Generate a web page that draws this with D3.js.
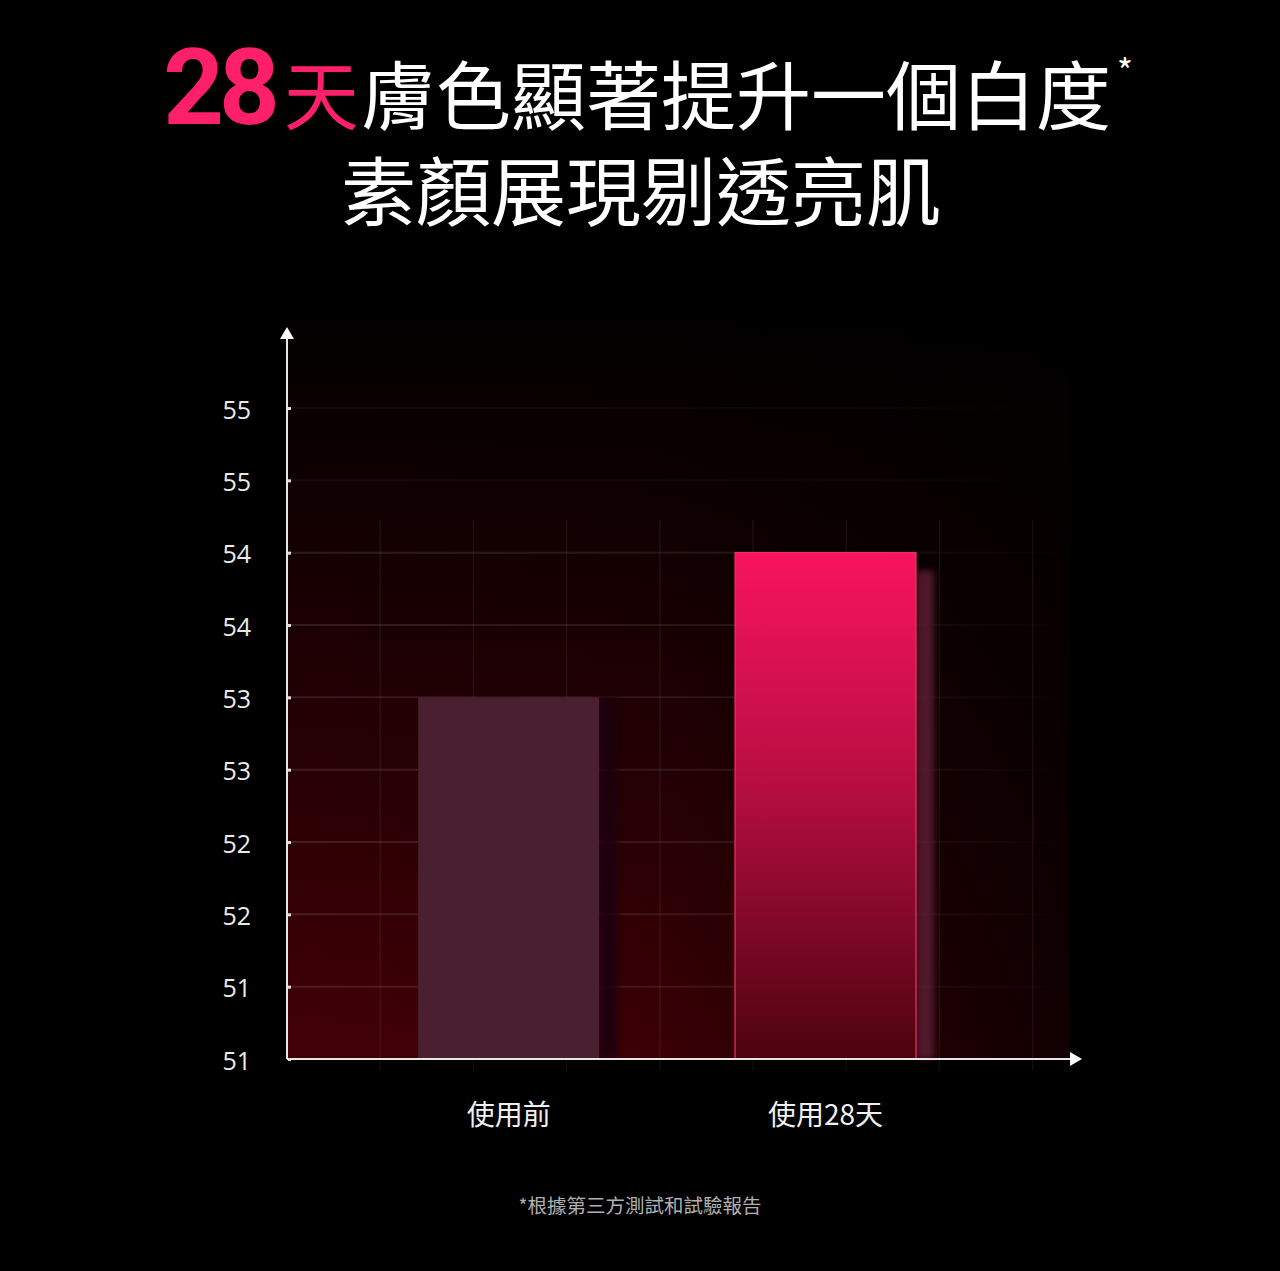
<!DOCTYPE html>
<html>
<head>
<meta charset="utf-8">
<script src="https://cdn.jsdelivr.net/npm/d3@7"></script>
<style>
  html, body { margin: 0; padding: 0; background: #000; }
  svg { display: block; }
</style>
</head>
<body>
<svg id="chart" width="1280" height="1271"></svg>
<script>
// ====== DADOS ======
const categories = ['使用前', '使用28天'];
const values = [53.5, 54.5];
const tickValues = [51, 51.5, 52, 52.5, 53, 53.5, 54, 54.5, 55, 55.5];
const tickLabels = ['51', '51', '52', '52', '53', '53', '54', '54', '55', '55'];
const gridCols = [1, 2, 3, 4, 5, 6, 7, 8];
const titleLine2 = '素顏展現剔透亮肌';
const footnote = '*根據第三方測試和試驗報告';

const W = 1280, H = 1271;
const left = 287, right = 1070, bottom = 1059;

const svg = d3.select('#chart');
const defs = svg.append('defs');

// fundo preto
svg.append('rect').attr('width', W).attr('height', H).attr('fill', '#000');

// ====== ESCALAS ======
const y = d3.scaleLinear().domain([51, 55.5]).range([bottom, 408]);
const x = d3.scaleBand().domain(categories).range([left, right])
  .paddingInner(0.429).paddingOuter(0.45).align(0.46);
const gx = d3.scaleLinear().domain([0, 8.4]).range([left, right]);

// ====== GRADIENTES ======
const bgV = defs.append('linearGradient').attr('id', 'bgV')
  .attr('x1', 0).attr('y1', 0).attr('x2', 0).attr('y2', 1);
bgV.append('stop').attr('offset', '0%').attr('stop-color', '#000');
bgV.append('stop').attr('offset', '35%').attr('stop-color', '#160002');
bgV.append('stop').attr('offset', '100%').attr('stop-color', '#420006');

const bgH = defs.append('linearGradient').attr('id', 'bgH')
  .attr('x1', 0).attr('y1', 0).attr('x2', 1).attr('y2', 0);
bgH.append('stop').attr('offset', '0%').attr('stop-color', '#000').attr('stop-opacity', 0);
bgH.append('stop').attr('offset', '45%').attr('stop-color', '#000').attr('stop-opacity', 0.1);
bgH.append('stop').attr('offset', '100%').attr('stop-color', '#000').attr('stop-opacity', 0.75);

const barG = defs.append('linearGradient').attr('id', 'barG')
  .attr('x1', 0).attr('y1', 0).attr('x2', 0).attr('y2', 1);
barG.append('stop').attr('offset', '0%').attr('stop-color', '#f7135f');
barG.append('stop').attr('offset', '45%').attr('stop-color', '#b80e42');
barG.append('stop').attr('offset', '100%').attr('stop-color', '#4c030e');

const blur = defs.append('filter').attr('id', 'blur')
  .attr('x', '-50%').attr('y', '-10%').attr('width', '200%').attr('height', '120%');
blur.append('feGaussianBlur').attr('stdDeviation', 3);

// linhas horizontais: gradiente em coordenadas do usuário (bbox de altura zero)
const fadeR = defs.append('linearGradient').attr('id', 'fadeR')
  .attr('gradientUnits', 'userSpaceOnUse')
  .attr('x1', left).attr('y1', 0).attr('x2', right).attr('y2', 0);
fadeR.append('stop').attr('offset', '0%').attr('stop-color', '#fff').attr('stop-opacity', 0.11);
fadeR.append('stop').attr('offset', '70%').attr('stop-color', '#fff').attr('stop-opacity', 0.07);
fadeR.append('stop').attr('offset', '100%').attr('stop-color', '#fff').attr('stop-opacity', 0.0);

// ====== FUNDO DO GRÁFICO ======
svg.append('rect').attr('x', left).attr('y', 300)
  .attr('width', right - left).attr('height', bottom - 300).attr('fill', 'url(#bgV)');
svg.append('rect').attr('x', left).attr('y', 300)
  .attr('width', right - left).attr('height', bottom - 300).attr('fill', 'url(#bgH)');

// grade
svg.append('g').selectAll('line.h')
  .data(tickValues.slice(1))
  .enter().append('line')
  .attr('x1', left).attr('x2', right - 10)
  .attr('y1', d => y(d)).attr('y2', d => y(d))
  .attr('stroke', 'url(#fadeR)')
  .attr('stroke-opacity', d => d > 54.6 ? 0.35 : 1)
  .attr('stroke-width', 2);

svg.append('g').selectAll('line.v')
  .data(gridCols)
  .enter().append('line')
  .attr('x1', d => gx(d)).attr('x2', d => gx(d))
  .attr('y1', 520).attr('y2', bottom + 12)
  .attr('stroke', '#fff').attr('stroke-opacity', 0.06).attr('stroke-width', 1.5);

// ====== BARRAS ======
// sombras laterais
svg.append('g').selectAll('rect.shade')
  .data(categories)
  .enter().append('rect')
  .attr('x', d => x(d) + x.bandwidth())
  .attr('y', (d, i) => y(values[i]) + (i === 1 ? 18 : 0))
  .attr('width', 18)
  .attr('height', (d, i) => bottom - y(values[i]) - (i === 1 ? 18 : 0))
  .attr('fill', (d, i) => i === 1 ? '#5a1d30' : '#1e020a')
  .attr('opacity', (d, i) => i === 1 ? 0.85 : 0.9)
  .attr('filter', 'url(#blur)');

svg.append('g').selectAll('rect.bar')
  .data(categories)
  .enter().append('rect')
  .attr('x', d => x(d))
  .attr('y', (d, i) => y(values[i]))
  .attr('width', x.bandwidth())
  .attr('height', (d, i) => bottom - y(values[i]))
  .attr('fill', (d, i) => i === 1 ? 'url(#barG)' : '#4a1f2f')
  .attr('stroke', (d, i) => i === 1 ? '#ff2a64' : 'none')
  .attr('stroke-width', 1.2);

// ====== EIXOS ======
const axisColor = '#e6e6e6';
svg.append('line').attr('x1', left).attr('x2', left)
  .attr('y1', bottom).attr('y2', 338)
  .attr('stroke', axisColor).attr('stroke-width', 2);
svg.append('path').attr('d', `M${left},327 L${left - 7},339 L${left + 7},339 Z`).attr('fill', '#fff');

svg.append('line').attr('x1', left).attr('x2', 1072)
  .attr('y1', bottom).attr('y2', bottom)
  .attr('stroke', axisColor).attr('stroke-width', 2);
svg.append('path').attr('d', `M1082,${bottom} L1070,${bottom - 7} L1070,${bottom + 7} Z`).attr('fill', '#fff');

const yAxis = d3.axisLeft(y).tickValues(tickValues)
  .tickFormat((d, i) => tickLabels[i]).tickSize(0).tickPadding(36);
const yg = svg.append('g').attr('transform', `translate(${left},0)`).call(yAxis);
yg.select('.domain').remove();
yg.selectAll('text')
  .attr('fill', '#eaeaea')
  .attr('dy', '0.4em')
  .style('font-family', '"Open Sans", "Noto Sans", sans-serif')
  .style('font-size', '25px');
yg.selectAll('.tick').append('rect')
  .attr('x', 1).attr('y', -1.5).attr('width', 3).attr('height', 3).attr('fill', '#ddd');

const xAxis = d3.axisBottom(x).tickSize(0).tickPadding(46);
const xg = svg.append('g').attr('transform', `translate(0,${bottom})`).call(xAxis);
xg.select('.domain').remove();
xg.selectAll('text')
  .attr('fill', '#f0f0f0')
  .style('font-family', '"Noto Sans CJK TC", sans-serif')
  .style('font-size', '28px');

// ====== TÍTULO ======
const t1 = svg.append('text').attr('x', 648).attr('y', 124)
  .attr('text-anchor', 'middle')
  .style('font-family', '"Noto Sans CJK TC", sans-serif')
  .style('font-size', '75px');
t1.append('tspan').text('28').attr('fill', '#ff1f6b')
  .style('font-family', 'Roboto, sans-serif').style('font-weight', 'bold')
  .style('font-size', '106px').style('letter-spacing', '-5px');
t1.append('tspan').text('天').attr('fill', '#ff1f6b').attr('dx', 9);
t1.append('tspan').text('膚色顯著提升一個白度').attr('fill', '#fff').attr('dx', 2);
t1.append('tspan').text('*').attr('fill', '#fff')
  .style('font-size', '34px').attr('dx', 6).attr('dy', -40);

svg.append('text').attr('x', 641).attr('y', 220)
  .attr('text-anchor', 'middle').attr('fill', '#fff')
  .style('font-family', '"Noto Sans CJK TC", sans-serif')
  .style('font-size', '75px')
  .text(titleLine2);

// nota de rodapé
svg.append('text').attr('x', 640).attr('y', 1213)
  .attr('text-anchor', 'middle').attr('fill', '#b0b0b0')
  .style('font-family', '"Noto Sans CJK TC", sans-serif')
  .style('font-size', '19.5px')
  .text(footnote);
</script>
</body>
</html>
